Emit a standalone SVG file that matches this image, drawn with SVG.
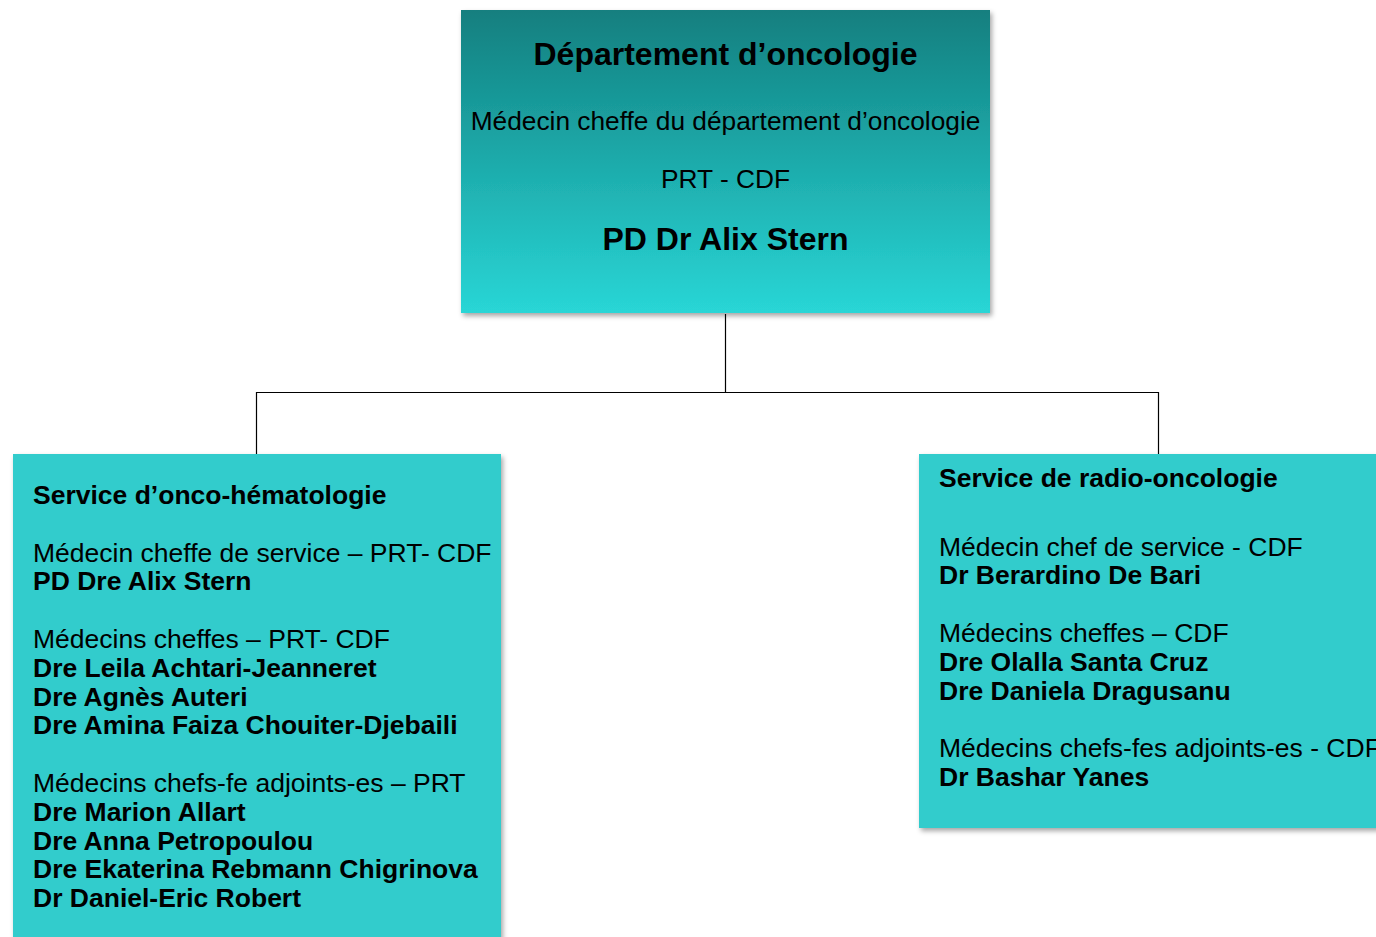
<svg xmlns="http://www.w3.org/2000/svg" width="1376" height="937" viewBox="0 0 1376 937">
<style>
.t{font-family:"Liberation Sans",Arial,sans-serif;fill:#000;}
.r{font-size:26.5px;}
.b{font-size:26.5px;font-weight:bold;}
.big{font-size:32px;font-weight:bold;}
.mid{font-size:26.3px;}
.conn{stroke:#000;stroke-width:1.2;fill:none;}
</style>
<defs>
<linearGradient id="g" x1="0" y1="0" x2="0" y2="1">
<stop offset="0" stop-color="#127f7f"/>
<stop offset="1" stop-color="#29d6d6"/>
</linearGradient>
<filter id="sh" x="-5%" y="-5%" width="115%" height="115%">
<feDropShadow dx="2" dy="3" stdDeviation="2.5" flood-color="#000" flood-opacity="0.35"/>
</filter>
</defs>
<rect width="1376" height="937" fill="#fff"/>
<g id="connectors">
<path class="conn" d="M725.5 314 V392.5 M256.5 454 V392.5 H1158.5 V454"/>
</g>
<g id="dept">
<rect x="461" y="10" width="529" height="303" fill="url(#g)" filter="url(#sh)"/>
<text class="t big" x="725.5" y="65" text-anchor="middle">Département d’oncologie</text>
<text class="t mid" x="725.5" y="130" text-anchor="middle">Médecin cheffe du département d’oncologie</text>
<text class="t mid" x="725.5" y="188" text-anchor="middle">PRT - CDF</text>
<text class="t big" x="725.5" y="250" text-anchor="middle">PD Dr Alix Stern</text>
</g>
<g id="onco-hemato">
<rect x="13" y="454" width="488" height="500" fill="#33cccc" filter="url(#sh)"/>
<text class="t b" x="33" y="504">Service d’onco-hématologie</text>
<text class="t r" x="33" y="561.6">Médecin cheffe de service – PRT- CDF</text>
<text class="t b" x="33" y="590.4">PD Dre Alix Stern</text>
<text class="t r" x="33" y="648">Médecins cheffes – PRT- CDF</text>
<text class="t b" x="33" y="676.8">Dre Leila Achtari-Jeanneret</text>
<text class="t b" x="33" y="705.6">Dre Agnès Auteri</text>
<text class="t b" x="33" y="734.4">Dre Amina Faiza Chouiter-Djebaili</text>
<text class="t r" x="33" y="792">Médecins chefs-fe adjoints-es – PRT</text>
<text class="t b" x="33" y="820.8">Dre Marion Allart</text>
<text class="t b" x="33" y="849.6">Dre Anna Petropoulou</text>
<text class="t b" x="33" y="878.4">Dre Ekaterina Rebmann Chigrinova</text>
<text class="t b" x="33" y="907.2">Dr Daniel-Eric Robert</text>
</g>
<g id="radio-onco">
<rect x="919" y="454" width="480" height="374" fill="#33cccc" filter="url(#sh)"/>
<text class="t b" x="939" y="487">Service de radio-oncologie</text>
<text class="t r" x="939" y="555.6">Médecin chef de service - CDF</text>
<text class="t b" x="939" y="584.4">Dr Berardino De Bari</text>
<text class="t r" x="939" y="641.9">Médecins cheffes – CDF</text>
<text class="t b" x="939" y="670.7">Dre Olalla Santa Cruz</text>
<text class="t b" x="939" y="699.5">Dre Daniela Dragusanu</text>
<text class="t r" x="939" y="757">Médecins chefs-fes adjoints-es - CDF</text>
<text class="t b" x="939" y="785.8">Dr Bashar Yanes</text>
</g>
</svg>
